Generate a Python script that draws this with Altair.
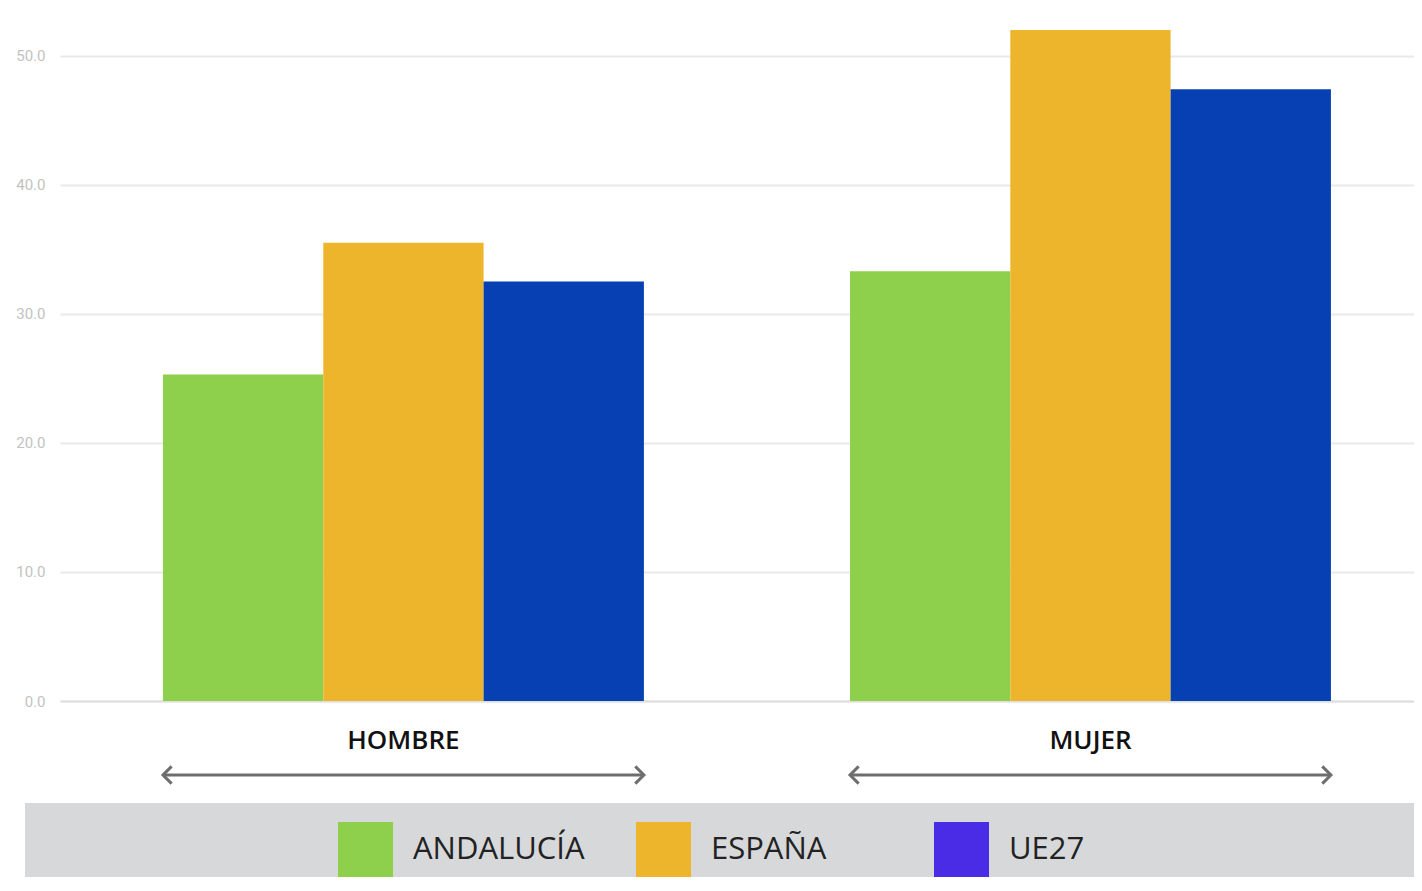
import altair as alt
import pandas as pd

grupos = ["HOMBRE", "MUJER"]
series = ["ANDALUCÍA", "ESPAÑA", "UE27"]
valores_hombre = [25.3, 35.5, 32.5]
valores_mujer = [33.3, 52.0, 47.4]
colores_barras = ["#8ed04b", "#edb52c", "#0640b3"]
colores_leyenda = ["#8ed04b", "#edb52c", "#4a2ce6"]
y_ticks = [0, 10, 20, 30, 40, 50]

rows = []
for g, vals in zip(grupos, [valores_hombre, valores_mujer]):
    for s, v in zip(series, vals):
        rows.append({"grupo": g, "serie": s, "leyenda": s, "valor": v})
df = pd.DataFrame(rows)
df_g = pd.DataFrame({"grupo": grupos})
df_bg = pd.DataFrame({"k": [0]})

W = 1354
H = 693

x_scale = alt.Scale(domain=grupos, paddingInner=0.3, paddingOuter=0.1354, align=0.5535)

x_axis = alt.Axis(
    title=None, labelAngle=0, ticks=False, domain=True, domainColor="#dedede",
    domainWidth=2, labelFont="Open Sans", labelFontSize=26, labelFontWeight=600,
    labelColor="#111111", labelPadding=26, grid=False,
)
y_axis = alt.Axis(
    title=None, values=y_ticks, format=".1f", ticks=False, domain=False,
    grid=True, gridColor="#e9e9e9", gridWidth=2, labelFont="Roboto",
    labelFontSize=15, labelColor="#c2c2c2", labelPadding=15,
)

bg = alt.Chart(df_bg).mark_rect(color="#d7d8da").encode(
    x=alt.value(-35), x2=alt.value(1400), y=alt.value(795), y2=alt.value(900)
)

bars = alt.Chart(df).mark_bar().encode(
    x=alt.X("grupo:N", scale=x_scale, axis=x_axis, sort=grupos),
    xOffset=alt.XOffset("serie:N", sort=series, scale=alt.Scale(paddingInner=0, paddingOuter=0)),
    y=alt.Y("valor:Q", scale=alt.Scale(domain=[0, 53.7], nice=False), axis=y_axis),
    fill=alt.Fill("serie:N", sort=series,
                  scale=alt.Scale(domain=series, range=colores_barras), legend=None),
)

legend_layer = alt.Chart(df).mark_square(size=0, opacity=1).encode(
    x=alt.X("grupo:N", scale=x_scale, sort=grupos),
    y=alt.Y("valor:Q"),
    color=alt.Color(
        "leyenda:N", sort=series,
        scale=alt.Scale(range=colores_leyenda),
        legend=alt.Legend(
            title=None, orient="none", legendX=278, legendY=814,
            direction="horizontal", columns=3, gridAlign="all", columnPadding=51,
            symbolType="square", symbolSize=3025, symbolStrokeWidth=0,
            symbolOpacity=1, labelFont="Open Sans", labelFontSize=31,
            labelColor="#222222", labelOffset=20, labelLimit=400, padding=0,
        ),
    ),
)

arrow_color = "#6e6e6e"
arrow_y = 767
rule = alt.Chart(df_g).mark_rule(color=arrow_color, strokeWidth=3).encode(
    x=alt.X("grupo:N", scale=x_scale, sort=grupos, bandPosition=0),
    x2=alt.X2("grupo", bandPosition=1),
    y=alt.value(arrow_y),
)
head_r = alt.Chart(df_g).mark_point(
    shape="M-1,-1L0,0L-1,1", size=300, filled=False, color=arrow_color,
    strokeWidth=3, opacity=1,
).encode(
    x=alt.X("grupo:N", scale=x_scale, sort=grupos, bandPosition=1),
    y=alt.value(arrow_y),
)
head_l = alt.Chart(df_g).mark_point(
    shape="M1,-1L0,0L1,1", size=300, filled=False, color=arrow_color,
    strokeWidth=3, opacity=1,
).encode(
    x=alt.X("grupo:N", scale=x_scale, sort=grupos, bandPosition=0),
    y=alt.value(arrow_y),
)

chart = alt.layer(bg, bars, legend_layer, rule, head_l, head_r).properties(
    width=W, height=H,
    autosize=alt.AutoSizeParams(type="none"),
    padding={"left": 52, "top": 0, "right": 0, "bottom": 176},
).configure_view(stroke=None)

chart.save("out.html", embed_options={"renderer": "svg", "actions": False})
